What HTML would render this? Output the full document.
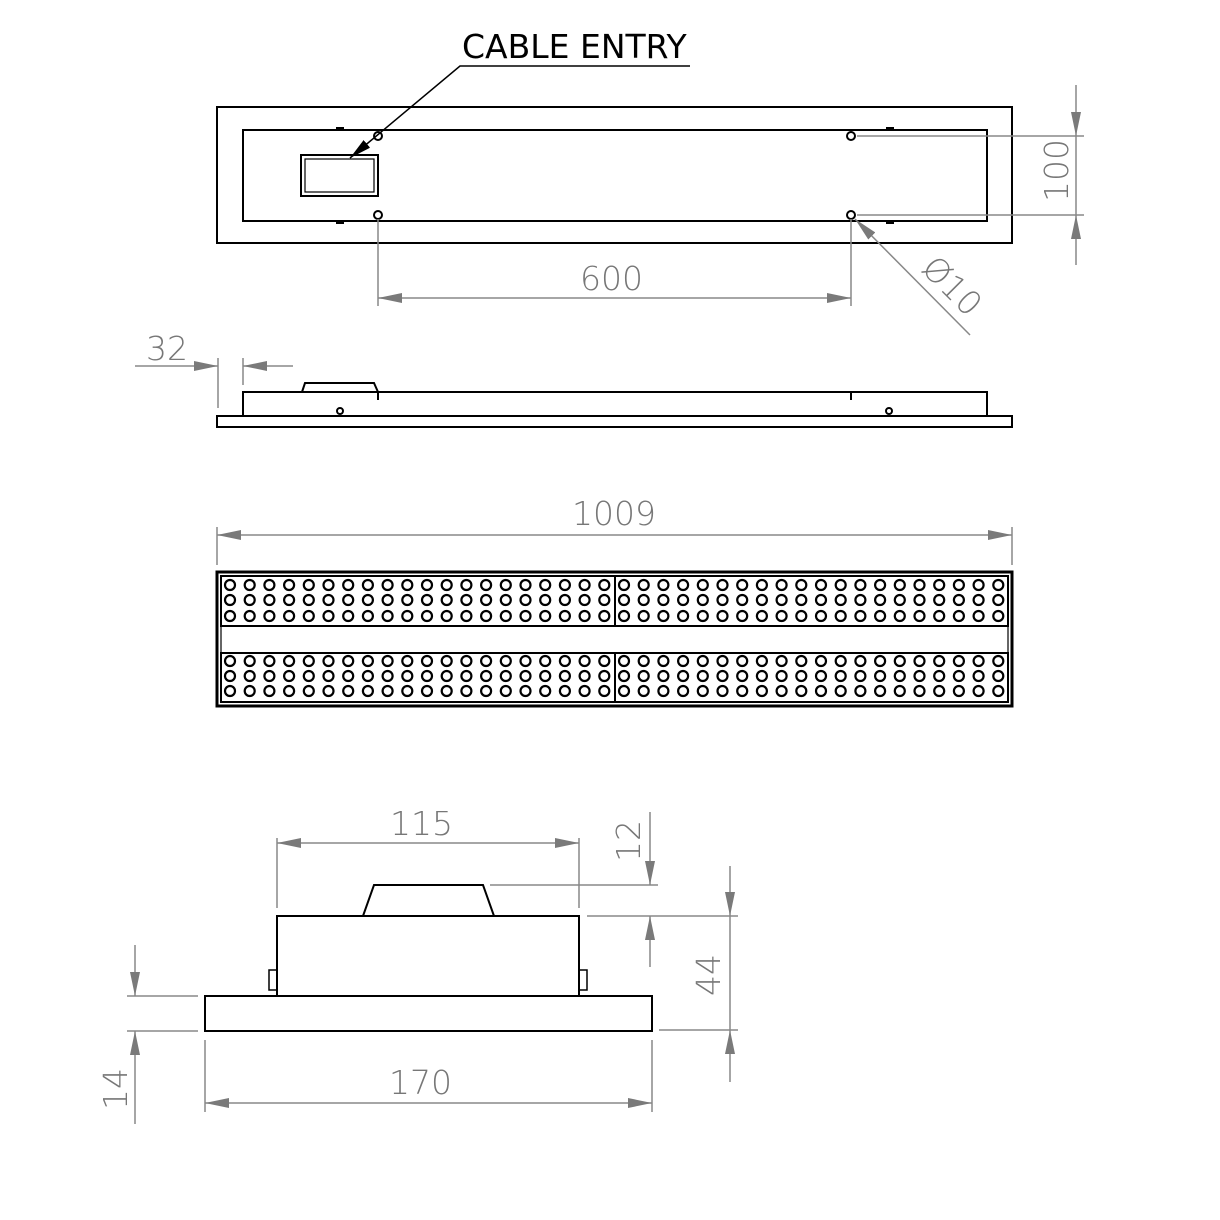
<!DOCTYPE html>
<html><head><meta charset="utf-8"><style>
html,body{margin:0;padding:0;background:#fff}
svg{display:block}
text{font-family:"DejaVu Sans","Liberation Sans",sans-serif;fill:#777;font-weight:200}
</style></head><body>
<svg id="s" width="1220" height="1220" viewBox="0 0 1220 1220" xmlns="http://www.w3.org/2000/svg">
<defs>
<marker id="a" viewBox="0 0 24 10" refX="24" refY="5" markerWidth="24" markerHeight="10" markerUnits="userSpaceOnUse" orient="auto"><path d="M0,0L24,5L0,10z" fill="#7a7a7a"/></marker>
<marker id="k" viewBox="0 0 22 10" refX="22" refY="5" markerWidth="22" markerHeight="10" markerUnits="userSpaceOnUse" orient="auto"><path d="M0,0L22,5L0,10z" fill="#000"/></marker>
</defs>
<g fill="none" stroke="#000" stroke-width="2">
<rect x="217" y="107" width="795" height="136"/>
<rect x="243" y="130" width="744" height="91"/>
<rect x="301" y="155" width="77" height="41"/>
<rect x="305" y="159" width="69" height="33" stroke-width="1.2"/>
<circle cx="378" cy="136" r="4"/><circle cx="378" cy="215" r="4"/>
<circle cx="851" cy="136" r="4"/><circle cx="851" cy="215" r="4"/>
<rect x="217" y="416" width="795" height="11"/>
<path d="M243,416V392H987V416"/>
<path d="M302,392L305,383H374L378,392"/>
<path d="M378,392V400M851,392V400"/>
<circle cx="340" cy="411" r="3"/><circle cx="889" cy="411" r="3"/>
<rect x="217" y="572" width="795" height="134" stroke-width="3"/>
<rect x="221" y="576" width="787" height="126" stroke-width="1.2"/>
<rect x="221" y="576" width="787" height="50"/>
<rect x="221" y="653" width="787" height="49"/>
<path d="M615,576V626M615,653V702"/>
<rect x="205" y="996" width="447" height="35"/>
<rect x="277" y="916" width="302" height="80"/>
<path d="M363,916L374,885H483L494,916"/>
<rect x="269" y="970" width="8" height="20" stroke-width="1.5"/>
<rect x="579" y="970" width="8" height="20" stroke-width="1.5"/>
</g>
<g fill="#000">
<rect x="336" y="127" width="8" height="3"/><rect x="336" y="221" width="8" height="3"/>
<rect x="886" y="127" width="8" height="3"/><rect x="886" y="221" width="8" height="3"/>
</g>
<g id="holes" fill="none" stroke="#000" stroke-width="2.2"></g>
<path d="M690,66H460L350,158" fill="none" stroke="#000" stroke-width="1.5" marker-end="url(#k)"/>
<text x="462" y="58" font-size="33" style="fill:#000;font-weight:normal">CABLE ENTRY</text>
<g fill="none" stroke="#888" stroke-width="1.5">
<path d="M378,219V306M851,219V306"/>
<path d="M614,298H378" marker-end="url(#a)"/><path d="M614,298H851" marker-end="url(#a)"/>
<path d="M857,136H1084M857,215H1084"/>
<path d="M1076,85V136" marker-end="url(#a)"/><path d="M1076,265V215" marker-end="url(#a)"/>
<path d="M1076,136V215"/>
<path d="M970,335L855,219" marker-end="url(#a)"/>
<path d="M218,358V408M243,358V385"/>
<path d="M135,366H218" marker-end="url(#a)"/><path d="M293,366H243" marker-end="url(#a)"/>
<path d="M217,527V565M1012,527V565"/>
<path d="M614,535H217" marker-end="url(#a)"/><path d="M614,535H1012" marker-end="url(#a)"/>
<path d="M277,838V908M579,838V908"/>
<path d="M428,843H277" marker-end="url(#a)"/><path d="M428,843H579" marker-end="url(#a)"/>
<path d="M490,885H658M587,916H738"/>
<path d="M650,812V885" marker-end="url(#a)"/><path d="M650,967V916" marker-end="url(#a)"/>
<path d="M659,1030H738"/>
<path d="M730,866V916" marker-end="url(#a)"/><path d="M730,1082V1030" marker-end="url(#a)"/>
<path d="M730,916V1030"/>
<path d="M127,996H198M127,1031H198"/>
<path d="M135,945V996" marker-end="url(#a)"/><path d="M135,1124V1031" marker-end="url(#a)"/>
<path d="M205,1040V1112M652,1040V1112"/>
<path d="M428,1103H205" marker-end="url(#a)"/><path d="M428,1103H652" marker-end="url(#a)"/>
</g>
<g font-size="33">
<text x="580" y="290">600</text>
<text x="1068" y="202" transform="rotate(-90 1068 202)">100</text>
<text x="920" y="270" transform="rotate(45 920 270)">Ø10</text>
<text x="146" y="360">32</text>
<text x="572" y="525">1009</text>
<text x="390" y="835">115</text>
<text x="640" y="862" transform="rotate(-90 640 862)">12</text>
<text x="720" y="996" transform="rotate(-90 720 996)">44</text>
<text x="127" y="1110" transform="rotate(-90 127 1110)">14</text>
<text x="389" y="1094">170</text>
</g>
</svg>
<script>
var g=document.getElementById('holes'),s='';
var rows=[585,600,616,661,676,691];
for(var h=0;h<2;h++){var x0=h?624:230;for(var i=0;i<20;i++){for(var r=0;r<6;r++){s+='<circle cx="'+(x0+i*19.7).toFixed(1)+'" cy="'+rows[r]+'" r="5"/>';}}}
g.innerHTML=s;
</script>
</body></html>
